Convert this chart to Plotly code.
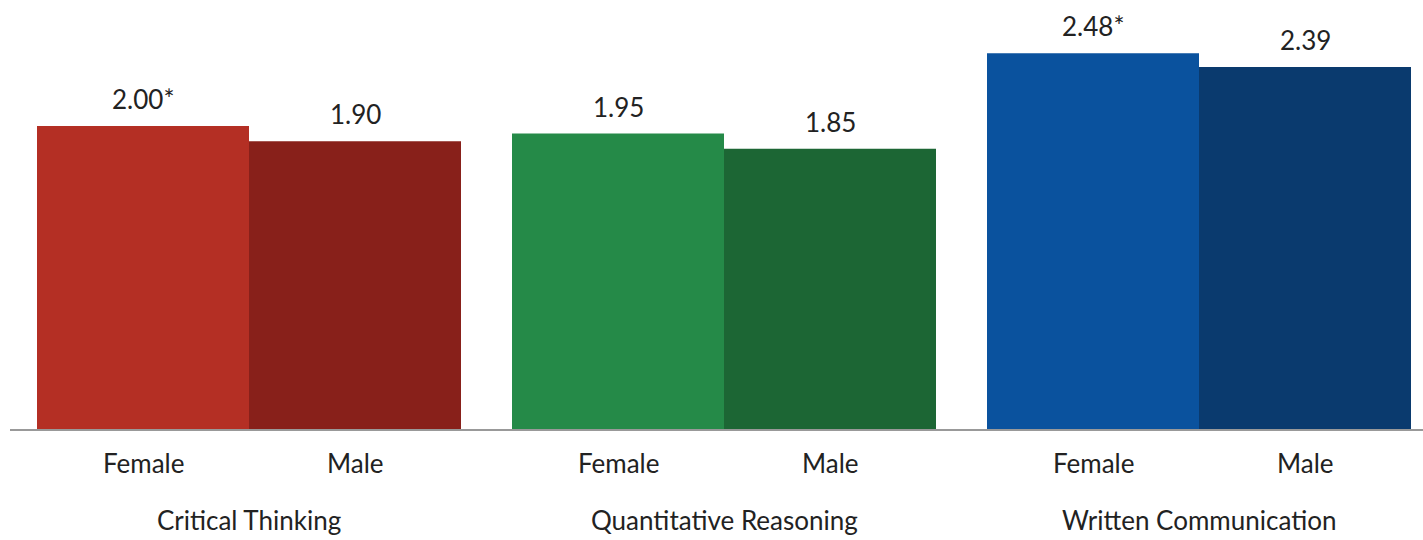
import plotly.graph_objects as go

# Mean scores by skill area and gender
skills = ["Critical Thinking", "Quantitative Reasoning", "Written Communication"]
female_scores = [2.00, 1.95, 2.48]
male_scores = [1.90, 1.85, 2.39]
female_labels = ["2.00*", "1.95", "2.48*"]
male_labels = ["1.90", "1.85", "2.39"]
gender_names = ["Female", "Male"]

female_colors = ["#B42F24", "#258A48", "#0A529E"]
male_colors = ["#88201A", "#1C6634", "#0A3A6E"]

W, H = 1423, 540
plot_bottom = 429          # pixel row of the baseline
bar_half = 106             # half a bar, in pixels
txt_color = "#222222"
font_family = "Lato, 'Open Sans', sans-serif"

fig = go.Figure()
fig.add_trace(go.Bar(x=skills, y=female_scores, name="Female",
                     marker=dict(color=female_colors, line=dict(width=0))))
fig.add_trace(go.Bar(x=skills, y=male_scores, name="Male",
                     marker=dict(color=male_colors, line=dict(width=0))))

annotations = []
for skill, fv, mv, fl, ml in zip(skills, female_scores, male_scores,
                                 female_labels, male_labels):
    # value labels above each bar
    annotations.append(dict(x=skill, y=fv, xref="x", yref="y", text=fl,
                            showarrow=False, xshift=-bar_half, yshift=27,
                            yanchor="middle"))
    annotations.append(dict(x=skill, y=mv, xref="x", yref="y", text=ml,
                            showarrow=False, xshift=bar_half, yshift=27,
                            yanchor="middle"))
    # gender labels under each bar
    for name, shift in zip(gender_names, (-bar_half, bar_half)):
        annotations.append(dict(x=skill, y=-(463 - plot_bottom) / plot_bottom,
                                xref="x", yref="paper", text=name,
                                showarrow=False, xshift=shift,
                                yanchor="middle"))
    # skill area label, kept just inside the bottom edge
    annotations.append(dict(x=skill, y=-(H - 2 - plot_bottom) / plot_bottom,
                            xref="x", yref="paper", text=skill,
                            showarrow=False, yanchor="bottom"))

left_px = 10
center0 = 249
spacing = 475
x_start = (left_px - center0) / spacing
x_end = x_start + (W - left_px) / spacing

fig.update_layout(
    width=W, height=H,
    margin=dict(l=0, r=0, t=0, b=H - plot_bottom),
    paper_bgcolor="white", plot_bgcolor="white",
    barmode="group", bargap=1 - 2 * 212 / spacing, bargroupgap=0,
    showlegend=False,
    font=dict(family=font_family, size=26, color=txt_color),
    annotations=annotations,
    xaxis=dict(domain=[left_px / W, 1], range=[x_start, x_end],
               showticklabels=False, ticks="", showgrid=False,
               showline=True, linecolor="#999999", linewidth=2,
               zeroline=False),
    yaxis=dict(range=[0, plot_bottom / 151.5], visible=False,
               showgrid=False, zeroline=False),
)

fig.write_html("out.html")
